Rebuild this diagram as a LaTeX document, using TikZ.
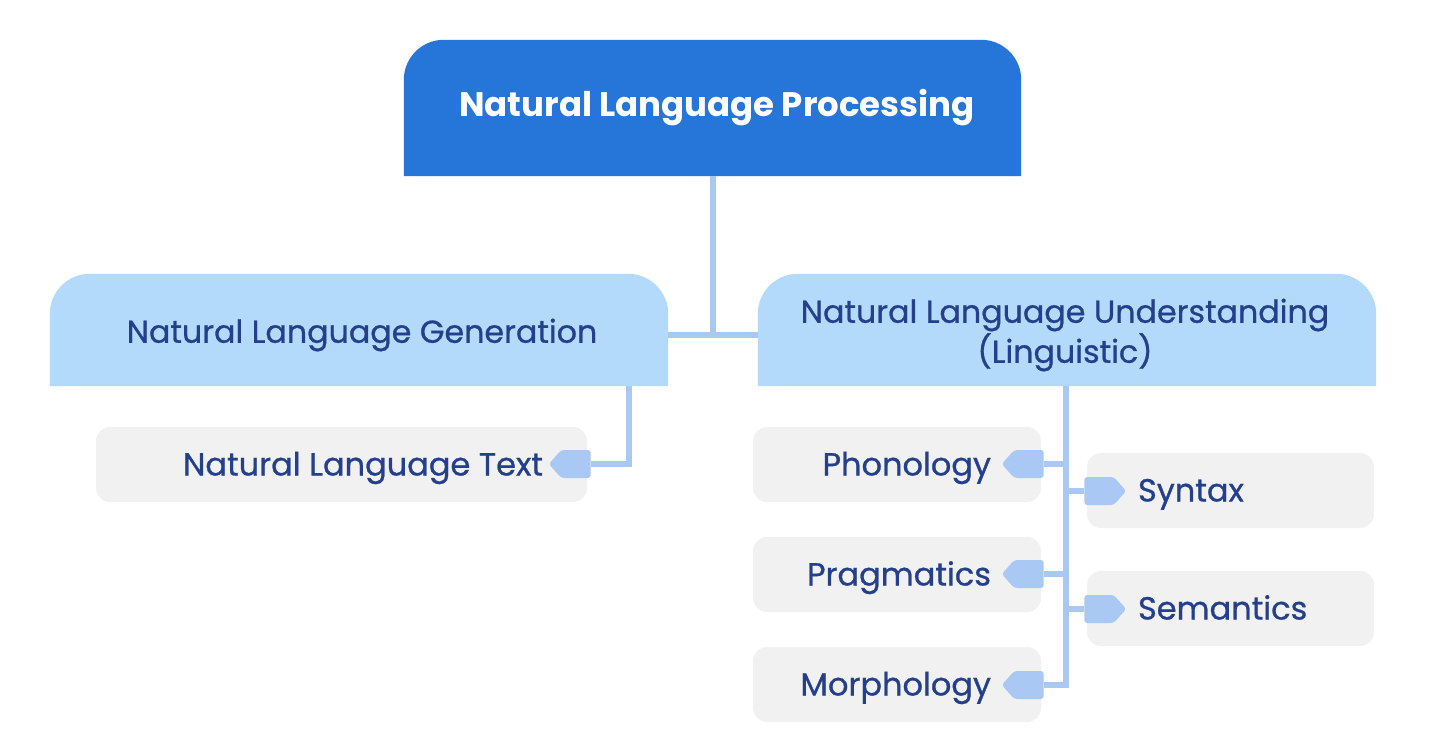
\documentclass[tikz,border=0pt]{standalone}
\usepackage{fontspec}
\setmainfont{Poppins}
\newfontfamily\medfont[FakeBold=0.8]{Poppins}
\usetikzlibrary{shapes.symbols}
\definecolor{rootblue}{HTML}{2675D8}
\definecolor{midblue}{HTML}{B4DAFB}
\definecolor{linkblue}{HTML}{A9C9F4}
\definecolor{leafgray}{HTML}{F1F1F1}
\definecolor{txtblue}{HTML}{24408C}
\tikzset{
  conn/.style={draw=linkblue, line width=6pt, line join=miter},
  box/.style={inner sep=0pt, draw=none},
  leafbox/.style={fill=leafgray, rounded corners=14pt, minimum height=75pt, inner sep=0pt},
  leaftext/.style={text=txtblue, font=\medfont\fontsize{32}{36}\selectfont, inner sep=0pt, text height=23pt, text depth=7pt, yshift=-3pt},
  midtext/.style={text=txtblue, font=\medfont\fontsize{31.7}{40}\selectfont, align=center},
  tagL/.style={signal, signal to=west, fill=linkblue, minimum width=42pt, minimum height=28pt, inner sep=0pt, rounded corners=3pt, signal pointer angle=96},
  tagR/.style={signal, signal to=east, fill=linkblue, minimum width=42pt, minimum height=28pt, inner sep=0pt, rounded corners=3pt, signal pointer angle=96},
}
\begin{document}
\begin{tikzpicture}[x=1pt,y=-1pt]
\useasboundingbox (0,0) rectangle (1432,741);
\fill[white] (0,0) rectangle (1432,741);
% boxes (empty named nodes) and their top-rounded fills
\node[box, minimum width=617pt, minimum height=136pt] (root) at (712.5,108) {};
\fill[rootblue] (root.south west) [rounded corners=40pt] -- (root.north west) -- (root.north east) [sharp corners] -- (root.south east) -- cycle;
\node[box, minimum width=618pt, minimum height=112pt] (nlg) at (359,330) {};
\fill[midblue] (nlg.south west) [rounded corners=40pt] -- (nlg.north west) -- (nlg.north east) [sharp corners] -- (nlg.south east) -- cycle;
\node[box, minimum width=618pt, minimum height=112pt] (nlu) at (1067,330) {};
\fill[midblue] (nlu.south west) [rounded corners=40pt] -- (nlu.north west) -- (nlu.north east) [sharp corners] -- (nlu.south east) -- cycle;
% texts of upper boxes
\node[text=white, font=\fontsize{34}{40}\selectfont\bfseries] (roottxt) at (717,108) {Natural Language Processing};
\node[midtext] (nlgtxt) at (362,335) {Natural Language Generation};
\node[midtext] (nlutxt) at (1065,335) {Natural Language Understanding\\(Linguistic)};
% leaf boxes
\node[leafbox, minimum width=491pt] (nlt) at (341.5,464.5) {};
\node[leafbox, minimum width=288pt] (pho) at (897,464.5) {};
\node[leafbox, minimum width=288pt] (pra) at (897,574.5) {};
\node[leafbox, minimum width=288pt] (mor) at (897,684.5) {};
\node[leafbox, minimum width=287pt] (syn) at (1230.5,490.5) {};
\node[leafbox, minimum width=287pt] (sem) at (1230.5,608.5) {};
\node[leaftext, anchor=east, xshift=-44pt] (nlttxt) at (nlt.east) {Natural Language Text};
\node[leaftext, anchor=east, xshift=-50pt] (photxt) at (pho.east) {Phonology};
\node[leaftext, anchor=east, xshift=-50pt] (pratxt) at (pra.east) {Pragmatics};
\node[leaftext, anchor=east, xshift=-50pt] (mortxt) at (mor.east) {Morphology};
\node[leaftext, anchor=west, xshift=51pt] (syntxt) at (syn.west) {Syntax};
\node[leaftext, anchor=west, xshift=51pt] (semtxt) at (sem.west) {Semantics};
% tags
\node[tagL] (g0) at (576,464) {};
\node[tagL] (g1) at (1029,464) {};
\node[tagL] (g2) at (1029,574) {};
\node[tagL] (g3) at (1029,685) {};
\node[tagR] (g4) at (1099,491) {};
\node[tagR] (g5) at (1099,609) {};
% connectors
\coordinate (j) at (713,335);
\draw[conn] (root.south -| j) -- (j);
\draw[conn] (nlg.east |- j) -- (nlu.west |- j);
\coordinate (nlgdrop) at (629,386);
\draw[conn] (nlgdrop) |- (g0.east);
\coordinate (trunk) at (1066,386);
\draw[conn] (trunk) |- (g3.east);
\draw[conn] (g1.east) -- (g1.east -| trunk);
\draw[conn] (g2.east) -- (g2.east -| trunk);
\draw[conn] (g4.west) -- (g4.west -| trunk);
\draw[conn] (g5.west) -- (g5.west -| trunk);
\end{tikzpicture}
\end{document}
